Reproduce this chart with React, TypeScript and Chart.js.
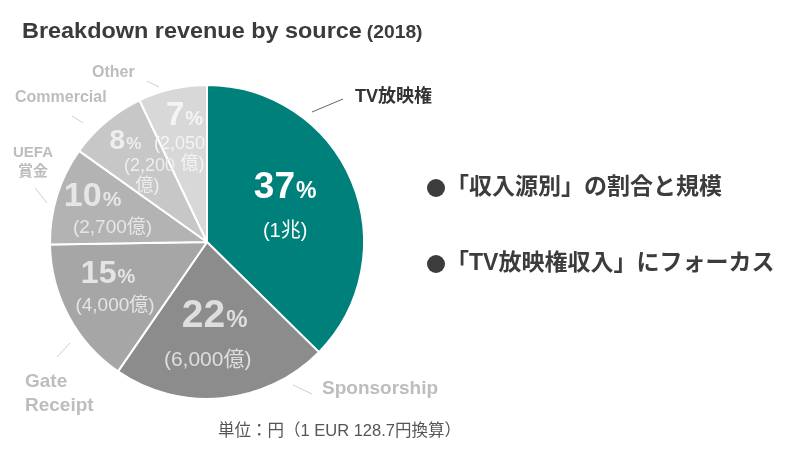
import React, { useEffect, useRef } from 'react';
import { Chart, registerables } from 'chart.js';

Chart.register(...registerables);

// ---- data ----
const categories = ['TV放映権', 'Sponsorship', 'Gate Receipt', 'UEFA 賞金', 'Commercial', 'Other'];
const shares = [37, 22, 15, 10, 8, 7];
const amountLines = [['(1兆)'], ['(6,000億)'], ['(4,000億)'], ['(2,700億)'], ['(2,200', '億)'], ['(2,050', '億)']];
const outerLabelLines = [['TV放映権'], ['Sponsorship'], ['Gate', 'Receipt'], ['UEFA', '賞金'], ['Commercial'], ['Other']];
const bulletPoints = ['「収入源別」の割合と規模', '「TV放映権収入」にフォーカス'];
const titleText = 'Breakdown revenue by source';
const titleYear = '(2018)';
const noteText = '単位：円（1 EUR 128.7円換算）';

// ---- styles ----
const sliceColors = ['#00807b', '#8c8c8c', '#a6a6a6', '#b3b3b3', '#c7c7c7', '#d8d8d8'];
const innerTextColors = ['#ffffff', '#dedede', '#e4e4e4', '#e6e6e6', '#eeeeee', '#f4f4f4'];
const FONT = '"Liberation Sans", Arial, "Noto Sans CJK JP", sans-serif';

// per-slice inner label layout (offsets relative to arc anchor at 0.65 r)
const innerLayout = [
  { pct: { dx: -16, dy: -18, size: 37 }, amt: [{ dx: -16, dy: 29 }], amtSize: 20 },
  { pct: { dx: -2, dy: -31, size: 39 }, amt: [{ dx: -9, dy: 17 }], amtSize: 21 },
  { pct: { dx: -9, dy: -19, size: 32 }, amt: [{ dx: -2, dy: 16 }], amtSize: 19 },
  { pct: { dx: -17, dy: -18, size: 34 }, amt: [{ dx: 3, dy: 16 }], amtSize: 19 },
  { pct: { dx: -16, dy: -25, size: 28 }, amt: [{ dx: 8, dy: 2 }, { dx: 6, dy: 22 }], amtSize: 18 },
  { pct: { dx: 0, dy: -29, size: 33 }, amt: [{ dx: -5, dy: 1.5 }, { dx: 8, dy: 21.5 }], amtSize: 18 },
];

// outer labels: offsets relative to pie centre
const outerLayout = [
  { x: 148, ys: [-145], align: 'left', size: 18, color: '#333333', line: [105, -130, 136, -143], lineColor: '#666666' },
  { x: 115, ys: [147], align: 'left', size: 19, color: '#bdbdbd', line: [86, 143, 105, 152], lineColor: '#cfcfcf' },
  { x: -182, ys: [140, 164], align: 'left', size: 19, color: '#bdbdbd', line: [-150, 115, -137, 101], lineColor: '#cfcfcf' },
  { x: -174, ys: [-89, -70], align: 'center', size: 15, color: '#bdbdbd', line: [-172, -54, -160, -39], lineColor: '#cfcfcf' },
  { x: -192, ys: [-144], align: 'left', size: 16, color: '#bdbdbd', line: [-135, -126, -124, -119], lineColor: '#cfcfcf' },
  { x: -115, ys: [-169], align: 'left', size: 16, color: '#bdbdbd', line: [-60, -161, -48, -155], lineColor: '#cfcfcf' },
];

function stretchText(ctx: CanvasRenderingContext2D, t: string, x: number, y: number, sx: number) {
  ctx.save();
  ctx.translate(x, y);
  ctx.scale(sx, 1);
  ctx.fillText(t, 0, 0);
  ctx.restore();
  return ctx.measureText(t).width * sx;
}

const labelPlugin = {
  id: 'customLabels',
  afterDraw(chart: any) {
    const ctx: CanvasRenderingContext2D = chart.ctx;
    const meta = chart.getDatasetMeta(0);
    ctx.save();

    // title
    ctx.fillStyle = '#3b3b3b';
    ctx.textBaseline = 'alphabetic';
    ctx.textAlign = 'left';
    ctx.font = `bold 22px ${FONT}`;
    const tw = stretchText(ctx, titleText, 22, 38, 1.065);
    ctx.font = `bold 18px ${FONT}`;
    stretchText(ctx, titleYear, 22 + tw + 5, 38, 1.07);

    meta.data.forEach((arc: any, i: number) => {
      const p = arc.getProps(['x', 'y', 'startAngle', 'endAngle', 'outerRadius'], true);
      const mid = (p.startAngle + p.endAngle) / 2;
      const ax = p.x + Math.cos(mid) * p.outerRadius * 0.65;
      const ay = p.y + Math.sin(mid) * p.outerRadius * 0.65;
      const L = innerLayout[i];
      ctx.fillStyle = innerTextColors[i];
      // percentage
      const num = String(shares[i]);
      const S = L.pct.size;
      const pS = Math.round(S * 0.62);
      ctx.font = `bold ${S}px ${FONT}`;
      const nw = ctx.measureText(num).width;
      ctx.font = `bold ${pS}px ${FONT}`;
      const pw = ctx.measureText('%').width;
      const cx = ax + L.pct.dx;
      const cy = ay + L.pct.dy;
      const sx = cx - (nw + pw + 1) / 2;
      const base = cy + S * 0.358;
      ctx.textAlign = 'left';
      ctx.textBaseline = 'alphabetic';
      ctx.font = `bold ${S}px ${FONT}`;
      ctx.fillText(num, sx, base);
      ctx.font = `bold ${pS}px ${FONT}`;
      ctx.fillText('%', sx + nw + 1, base);
      // amounts
      ctx.font = `${L.amtSize}px ${FONT}`;
      ctx.textAlign = 'center';
      ctx.textBaseline = 'middle';
      amountLines[i].forEach((t, j) => {
        const o = L.amt[j];
        ctx.fillText(t, ax + o.dx, ay + o.dy);
      });

      // outer labels
      const O = outerLayout[i];
      ctx.strokeStyle = O.lineColor;
      ctx.lineWidth = 1;
      ctx.beginPath();
      ctx.moveTo(p.x + O.line[0], p.y + O.line[1]);
      ctx.lineTo(p.x + O.line[2], p.y + O.line[3]);
      ctx.stroke();
      ctx.fillStyle = O.color;
      ctx.font = `bold ${O.size}px ${FONT}`;
      ctx.textAlign = O.align as CanvasTextAlign;
      ctx.textBaseline = 'middle';
      outerLabelLines[i].forEach((t, j) => {
        ctx.fillText(t, p.x + O.x, p.y + O.ys[j]);
      });
    });

    // bullets
    ctx.fillStyle = '#3c3c3c';
    bulletPoints.forEach((t, k) => {
      const by = 188 + k * 76;
      ctx.beginPath();
      ctx.arc(436, by, 9, 0, Math.PI * 2);
      ctx.fill();
      ctx.font = `bold 23px ${FONT}`;
      ctx.textAlign = 'left';
      ctx.textBaseline = 'middle';
      ctx.fillText(t, 446, by);
    });

    // note
    ctx.fillStyle = '#555555';
    ctx.font = `16.5px ${FONT}`;
    ctx.textAlign = 'left';
    ctx.textBaseline = 'middle';
    ctx.fillText(noteText, 218, 431);

    ctx.restore();
  },
};

export default function App() {
  const ref = useRef<HTMLCanvasElement | null>(null);
  useEffect(() => {
    if (!ref.current) return;
    const chart = new Chart(ref.current, {
      type: 'pie',
      data: {
        labels: categories,
        datasets: [
          {
            data: shares,
            backgroundColor: sliceColors,
            borderColor: '#ffffff',
            borderWidth: 2,
          },
        ],
      },
      options: {
        responsive: false,
        animation: false,
        layout: { padding: { left: 49, right: 435, top: 84, bottom: 50 } },
        plugins: {
          legend: { display: false },
          tooltip: { enabled: false },
          title: { display: false },
        },
      },
      plugins: [labelPlugin],
    });
    return () => chart.destroy();
  }, []);
  return (
    <div style={{ position: 'absolute', left: 0, top: 0, width: 800, height: 450, background: '#ffffff' }}>
      <canvas ref={ref} width={800} height={450} />
    </div>
  );
}
